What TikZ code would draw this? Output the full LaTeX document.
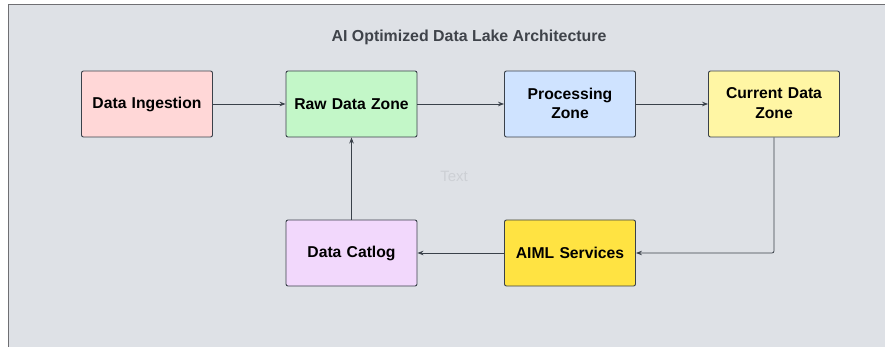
\documentclass[tikz,border=0pt]{standalone}
\usepackage{fontspec}
\setmainfont{Liberation Sans}
\usetikzlibrary{arrows.meta}
\definecolor{framebg}{HTML}{DEE1E6}
\definecolor{frameln}{HTML}{6F6F73}
\definecolor{boxln}{HTML}{3A414A}
\definecolor{cpink}{HTML}{FFD7D7}
\definecolor{cgreen}{HTML}{C3F7C8}
\definecolor{cblue}{HTML}{CFE3FF}
\definecolor{cylight}{HTML}{FFF6A4}
\definecolor{cpurple}{HTML}{F2D8FC}
\definecolor{cyellow}{HTML}{FFE342}
\definecolor{titlec}{HTML}{3F434A}
\definecolor{ghost}{HTML}{CDD0D5}
\tikzset{
  x=1pt, y=-1pt,
  zonebox/.style={draw=boxln, line width=0.9pt, rounded corners=2pt,
    minimum width=131pt, minimum height=66pt, inner sep=2pt,
    align=center, text width=125pt,
    font=\fontsize{15.7}{19.5}\selectfont\bfseries},
  flow/.style={draw=boxln, line width=0.8pt, -{Stealth[length=6pt,width=4.5pt]}},
}
\begin{document}
\begin{tikzpicture}
\useasboundingbox (0,0) rectangle (885,347);
\fill[white] (0,0) rectangle (885,347);
\fill[framebg] (8.5,4.5) rectangle (890,352);
\draw[frameln, line width=1.5pt] (8.5,352) -- (8.5,4.5) -- (890,4.5);
\node[font=\fontsize{15.9}{19}\selectfont\bfseries, text=titlec] (title) at (469,37) {AI Optimized Data Lake Architecture};
\node[font=\fontsize{15}{18}\selectfont, text=ghost] (ghost) at (454,176) {Text};
\node[zonebox, fill=cpink] (ing) at (147,104) {\raisebox{-1pt}{Data Ingestion}};
\node[zonebox, fill=cgreen] (raw) at (351.5,104) {Raw Data Zone};
\node[zonebox, fill=cblue] (proc) at (570,104) {\raisebox{1.5pt}{Processing}\\\raisebox{1.5pt}{Zone}};
\node[zonebox, fill=cylight] (cur) at (774,104) {\raisebox{1.5pt}{Current Data}\\\raisebox{1.5pt}{Zone}};
\node[zonebox, fill=cpurple] (cat) at (351.5,253) {\raisebox{-1pt}{Data Catlog}};
\node[zonebox, fill=cyellow] (aiml) at (570,253) {AIML Services};
\draw[flow] (ing) -- (raw);
\draw[flow] (raw) -- (proc);
\draw[flow] (proc) -- (cur);
\draw[flow, rounded corners=2pt] (cur.south) |- (aiml.east);
\draw[flow] (aiml) -- (cat);
\draw[flow] (cat) -- (raw);
\end{tikzpicture}
\end{document}
